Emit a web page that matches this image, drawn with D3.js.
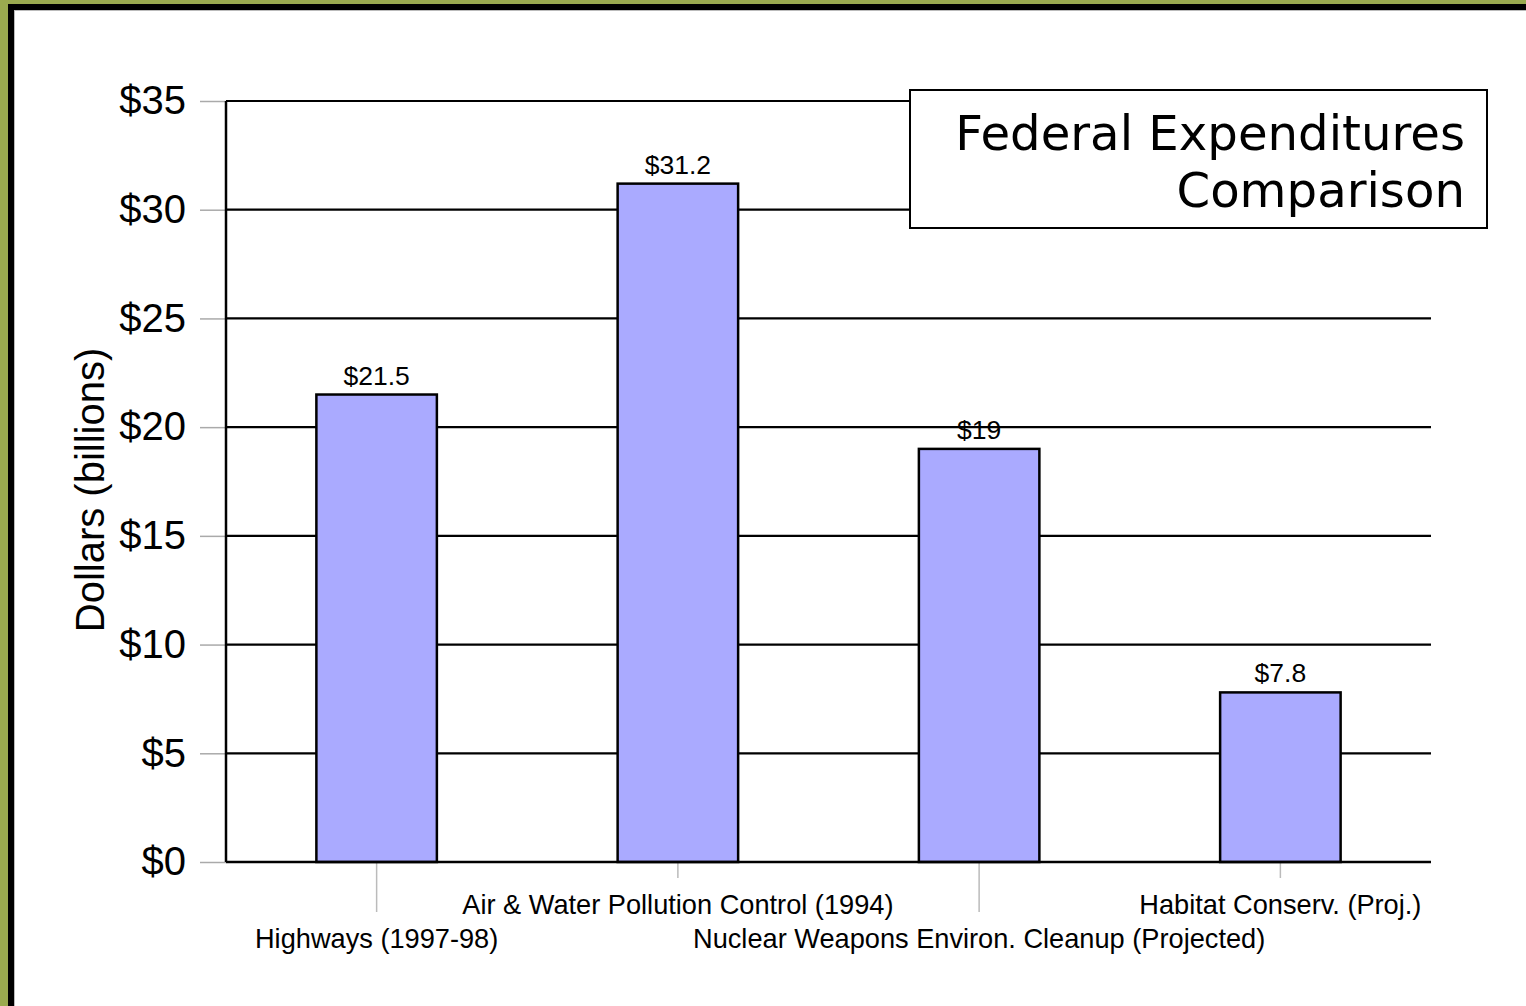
<!DOCTYPE html>
<html>
    <head>
        <title>Federal Expenditures Comparison</title>
        <script src="https://d3js.org/d3.v7.min.js" charset="utf-8"></script>
        <style>
            body {
                margin: 0;
                background: white;
                font-family: "Liberation Sans", Arial, sans-serif;
            }
        </style>
    </head>
    <body>
        <script>
            // chart values
            var categories = ["Highways (1997-98)", "Air & Water Pollution Control (1994)",
                "Nuclear Weapons Environ. Cleanup (Projected)", "Habitat Conserv. (Proj.)"];
            var values = [21.5, 31.2, 19, 7.8];
            var valueLabels = ["$21.5", "$31.2", "$19", "$7.8"];
            var yTicks = [0, 5, 10, 15, 20, 25, 30, 35];
            var titleLines = ["Federal Expenditures", "Comparison"];

            var width = 1526;
            var height = 1006;
            var plot = {left: 226, right: 1431, top: 101, bottom: 862};

            var svg = d3.select("body")
                .append("svg")
                .attr("width", width)
                .attr("height", height);

            // olive frame (cropped at right and bottom)
            svg.append("rect").attr("x", 0).attr("y", 0).attr("width", width).attr("height", height)
                .attr("fill", "#9aaa4f");
            svg.append("rect").attr("x", 8).attr("y", 4).attr("width", width).attr("height", height)
                .attr("fill", "#000");
            svg.append("rect").attr("x", 14).attr("y", 10).attr("width", width).attr("height", height)
                .attr("fill", "#bbb");
            svg.append("rect").attr("x", 15).attr("y", 11).attr("width", width).attr("height", height)
                .attr("fill", "#fff");

            var x = d3.scaleBand()
                .domain(categories)
                .range([plot.left, plot.right])
                .paddingInner(0.6)
                .paddingOuter(0.3);

            var y = d3.scaleLinear()
                .domain([0, 35])
                .range([plot.bottom, plot.top]);

            // gridlines
            svg.append("g").selectAll("line")
                .data(yTicks)
                .enter()
                .append("line")
                .attr("x1", plot.left)
                .attr("x2", plot.right)
                .attr("y1", function(d) { return y(d); })
                .attr("y2", function(d) { return y(d); })
                .attr("stroke", "#000")
                .attr("stroke-width", 2.2);

            // y axis
            var yAxis = d3.axisLeft(y)
                .tickValues(yTicks)
                .tickSize(26)
                .tickPadding(14)
                .tickFormat(function(d) { return "$" + d; });

            var ya = svg.append("g")
                .attr("transform", "translate(" + plot.left + ",0)")
                .call(yAxis);
            ya.select(".domain").remove();
            ya.selectAll(".tick line").attr("stroke", "#aaa").attr("stroke-width", 1.5);
            ya.selectAll(".tick text")
                .attr("font-family", "Liberation Sans, Arial, sans-serif")
                .attr("font-size", 40)
                .attr("fill", "#000");

            svg.append("line")
                .attr("x1", plot.left).attr("x2", plot.left)
                .attr("y1", plot.top).attr("y2", plot.bottom)
                .attr("stroke", "#000").attr("stroke-width", 2.5);

            // category ticks, staggered labels
            var xg = svg.append("g");
            xg.selectAll("line")
                .data(categories)
                .enter()
                .append("line")
                .attr("x1", function(d) { return x(d) + x.bandwidth() / 2; })
                .attr("x2", function(d) { return x(d) + x.bandwidth() / 2; })
                .attr("y1", plot.bottom)
                .attr("y2", function(d, i) { return i % 2 === 0 ? plot.bottom + 50 : plot.bottom + 16; })
                .attr("stroke", "#bbb")
                .attr("stroke-width", 1.5);

            xg.selectAll("text")
                .data(categories)
                .enter()
                .append("text")
                .attr("x", function(d) { return x(d) + x.bandwidth() / 2; })
                .attr("y", function(d, i) { return i % 2 === 0 ? 948 : 914; })
                .attr("text-anchor", "middle")
                .attr("font-size", 27.2)
                .attr("fill", "#000")
                .text(function(d) { return d; });

            // bars
            svg.append("g").selectAll("rect")
                .data(values)
                .enter()
                .append("rect")
                .attr("x", function(d, i) { return x(categories[i]); })
                .attr("y", function(d) { return y(d); })
                .attr("width", x.bandwidth())
                .attr("height", function(d) { return y(0) - y(d); })
                .attr("fill", "#aaaaff")
                .attr("stroke", "#000")
                .attr("stroke-width", 2.5);

            svg.append("line")
                .attr("x1", plot.left).attr("x2", plot.right)
                .attr("y1", plot.bottom).attr("y2", plot.bottom)
                .attr("stroke", "#000").attr("stroke-width", 2.5);

            // value labels
            svg.append("g").selectAll("text")
                .data(values)
                .enter()
                .append("text")
                .attr("x", function(d, i) { return x(categories[i]) + x.bandwidth() / 2; })
                .attr("y", function(d) { return y(d) - 10; })
                .attr("text-anchor", "middle")
                .attr("font-size", 26.5)
                .attr("fill", "#000")
                .text(function(d, i) { return valueLabels[i]; });

            // y axis title
            svg.append("text")
                .attr("transform", "translate(104,490) rotate(-90)")
                .attr("text-anchor", "middle")
                .attr("font-size", 40)
                .attr("fill", "#000")
                .text("Dollars (billions)");

            // title box
            svg.append("rect")
                .attr("x", 910).attr("y", 90)
                .attr("width", 577).attr("height", 138)
                .attr("fill", "#fff")
                .attr("stroke", "#000")
                .attr("stroke-width", 2);

            svg.append("g").selectAll("text")
                .data(titleLines)
                .enter()
                .append("text")
                .attr("x", 1465)
                .attr("y", function(d, i) { return 150 + i * 57; })
                .attr("text-anchor", "end")
                .attr("font-family", "DejaVu Sans, sans-serif")
                .attr("font-size", 48.2)
                .attr("fill", "#000")
                .text(function(d) { return d; });
        </script>
    </body>
</html>
